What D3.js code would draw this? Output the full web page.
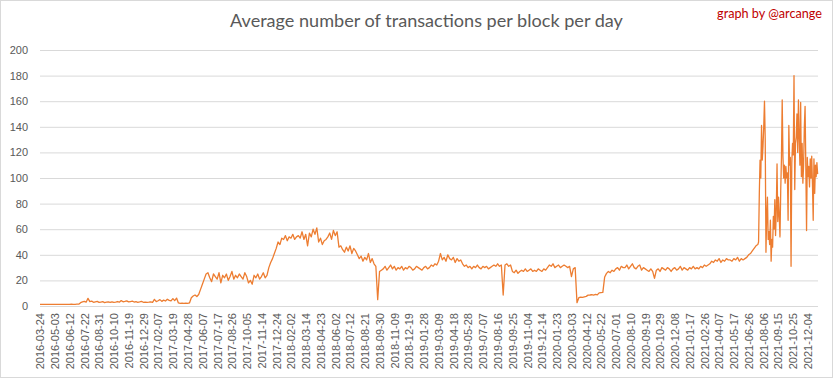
<!DOCTYPE html>
<html>
<head>
<meta charset="utf-8">
<script src="https://cdn.jsdelivr.net/npm/d3@7"></script>
<style>
  html, body { margin: 0; padding: 0; background: #fff; }
  svg { display: block; }
</style>
</head>
<body>
<svg id="chart" width="833" height="379"></svg>
<script>
// ---------- DATA ----------
const titleText = "Average number of transactions per block per day";
const creditText = "graph by @arcange";
const startDate = "2016-03-24";
const lastDay = 2108;            // days after startDate covered by the category axis
const tickEveryDays = 40;
const tickLabels = [
  "2016-03-24","2016-05-03","2016-06-12","2016-07-22","2016-08-31","2016-10-10","2016-11-19","2016-12-29",
  "2017-02-07","2017-03-19","2017-04-28","2017-06-07","2017-07-17","2017-08-26","2017-10-05","2017-11-14","2017-12-24",
  "2018-02-02","2018-03-14","2018-04-23","2018-06-02","2018-07-12","2018-08-21","2018-09-30","2018-11-09","2018-12-19",
  "2019-01-28","2019-03-09","2019-04-18","2019-05-28","2019-07-07","2019-08-16","2019-09-25","2019-11-04","2019-12-14",
  "2020-01-23","2020-03-03","2020-04-12","2020-05-22","2020-07-01","2020-08-10","2020-09-19","2020-10-29","2020-12-08",
  "2021-01-17","2021-02-26","2021-04-07","2021-05-17","2021-06-26","2021-08-06","2021-09-15","2021-10-25","2021-12-04"
];
const yTicks = [0,20,40,60,80,100,120,140,160,180,200];

// readings every 5th day from 2016-03-24 (day 0) to day 1945
const fiveDayStep = 5;
const fiveDayValues = [
  1.2,1.3,1.3,1.2,1.3,1.3,1.2,1.3,1.3,1.3,1.2,1.3,1.3,1.3,1.2,1.3,1.3,1.4,1.3,1.3,1.4,1.4,
  2.6,3.2,3.6,3.0,6.0,3.4,3.8,2.9,3.3,3.6,2.8,3.1,3.4,2.7,3.0,3.2,2.8,3.3,2.9,3.1,
  3.5,3.0,4.2,3.3,3.6,4.0,3.2,3.5,3.8,3.1,3.4,2.9,3.2,3.6,2.9,3.1,2.8,3.0,3.3,2.9,
  5.2,3.4,4.1,5.0,3.6,4.6,3.9,5.3,4.4,4.0,5.8,4.2,6.2,
  2.4,2.0,2.2,2.1,2.3,2.0,2.4,
  6.5,7.8,8.6,7.4,9.0,
  13,17,21,25,
  26,22,19,25,23,21,26,18,24,22,25,20,23,27,21,24,22,25,23,21,26,23,
  18,20,17,
  24,22,25,21,23,26,22,24,
  30,34,37,
  41,45,
  50,48,53,
  52,55,51,54,53,56,52,54,
  55,53,58,52,56,47,
  57,54,60,56,61,
  50,53,48,51,52,
  54,57,52,59,55,58,
  46,47,
  44,42,46,43,47,41,45,43,
  40,37,39,35,38,36,41,34,37,
  33,31,
  5,
  27,28,
  29,31,28,30,32,29,31,28,30,29,31,28,30,29,31,30,28,29,31,30,29,28,30,31,29,30,32,31,
  33,32,35,
  41,
  36,38,35,40,37,36,38,34,37,35,36,
  33,31,32,
  30,31,29,31,30,32,30,29,31,30,31,29,30,
  31,32,31,33,31,32,
  8.6,
  32,33,31,32,
  27,26,28,25.5,27,
  28,27,29,27,28,29,27,28,27,29,28,27,29,28,
  30,32,31,33,30,31,32,30,31,32,31,30,31,
  23,
  29,30,
  2.6,
  6.5,7,6.8,7.2,7.5,
  8.5,8.6,8.8,8.5,9,8.7,
  10.3,10.5,10.6,
  22.7,
  25.5,27,26,28,27,
  29,30,28,31,30,
  30,32,29,31,33,30,29,31,32,28,30,29,28,27,29,
  27,21.6,
  28,29,27,30,29,28,30,29,27,29,30,28,29,31,28,30,29,28,30,29,31,29,30,29,
  31,30,32,31,32,
  33,35,34,36,35,37,34,36,35,37,36,
  36,35,37,36,38,35,37,36,37,
  38,40,41,43,45,47,
  48
];

// readings every 2nd day from day 1947 to the end (volatile period)
const twoDayStart = 1947;
const twoDayStep = 2;
const twoDayValues = [
  50,88,114,100,141,114,125,140,160,130,
  42,70,85,52,58,48,67,35,52,46,
  70,60,83,55,75,111,66,85,70,54,
  90,116,161,117,100,110,96,109,100,104,
  67,141,110,116,31,112,127,118,180,91,
  127,132,150,120,161,132,110,159,101,127,
  96,110,140,156,109,59,116,101,109,93,
  115,100,117,95,67,115,88,110,101,112,
  103
];

// ---------- DRAW ----------
const svg = d3.select("#chart");
const W = 833, H = 379;
const plot = { left: 40, right: 818, top: 50, bottom: 306 };

svg.append("rect")
  .attr("x", 0.5).attr("y", 0.5).attr("width", W - 1).attr("height", H - 2)
  .attr("fill", "#fff").attr("stroke", "#d9d9d9");

const x = d3.scaleLinear().domain([0, lastDay]).range([plot.left, plot.right]);
const y = d3.scaleLinear().domain([0, 200]).range([plot.bottom, plot.top]);

// gridlines + y labels
const yAxis = d3.axisLeft(y).tickValues(yTicks).tickSize(-(plot.right - plot.left)).tickPadding(12);
const gy = svg.append("g").attr("transform", `translate(${plot.left},0)`).call(yAxis);
gy.select(".domain").remove();
gy.selectAll(".tick line").attr("stroke", "#d9d9d9").attr("stroke-width", 1);
gy.selectAll(".tick text")
  .attr("fill", "#595959")
  .style("font-family", "'Liberation Sans', Arial, sans-serif")
  .style("font-size", "11px");

// x labels (category axis, every 40 days)
const tickDays = tickLabels.map((_, i) => i * tickEveryDays);
const xAxis = d3.axisBottom(x).tickValues(tickDays).tickSize(0)
  .tickFormat((d, i) => tickLabels[i]);
const gx = svg.append("g").attr("transform", `translate(0,${plot.bottom})`).call(xAxis);
gx.select(".domain").remove();
gx.selectAll(".tick text")
  .attr("fill", "#595959")
  .style("font-family", "'Liberation Sans', Arial, sans-serif")
  .style("font-size", "11px")
  .attr("text-anchor", "end")
  .attr("dy", "0.35em")
  .attr("transform", "translate(0,7) rotate(-90)")
  .attr("x", 0).attr("y", 0);

// series
const points = fiveDayValues.map((v, i) => ({ day: i * fiveDayStep, v }))
  .concat(twoDayValues.map((v, j) => ({ day: twoDayStart + j * twoDayStep, v })));

svg.append("path")
  .datum(points)
  .attr("fill", "none")
  .attr("stroke", "#ed7d31")
  .attr("stroke-width", 1.3)
  .attr("stroke-linejoin", "round")
  .attr("d", d3.line().x(d => x(d.day)).y(d => y(d.v)));

// title
const title = svg.append("text")
  .attr("x", 426.5).attr("y", 27)
  .attr("text-anchor", "middle")
  .attr("fill", "#595959")
  .style("font-family", "Lato, 'Open Sans', sans-serif")
  .style("font-size", "18px")
  .text(titleText);
{
  const w = title.node().getComputedTextLength();
  title.style("font-size", (18 * 393 / w).toFixed(2) + "px");
}

// credit
const credit = svg.append("text")
  .attr("x", 822).attr("y", 18)
  .attr("text-anchor", "end")
  .attr("fill", "#c00000")
  .style("font-family", "Lato, 'Open Sans', sans-serif")
  .style("font-size", "13px")
  .text(creditText);
{
  const w = credit.node().getComputedTextLength();
  credit.style("font-size", (13 * 105 / w).toFixed(2) + "px");
}
</script>
</body>
</html>
